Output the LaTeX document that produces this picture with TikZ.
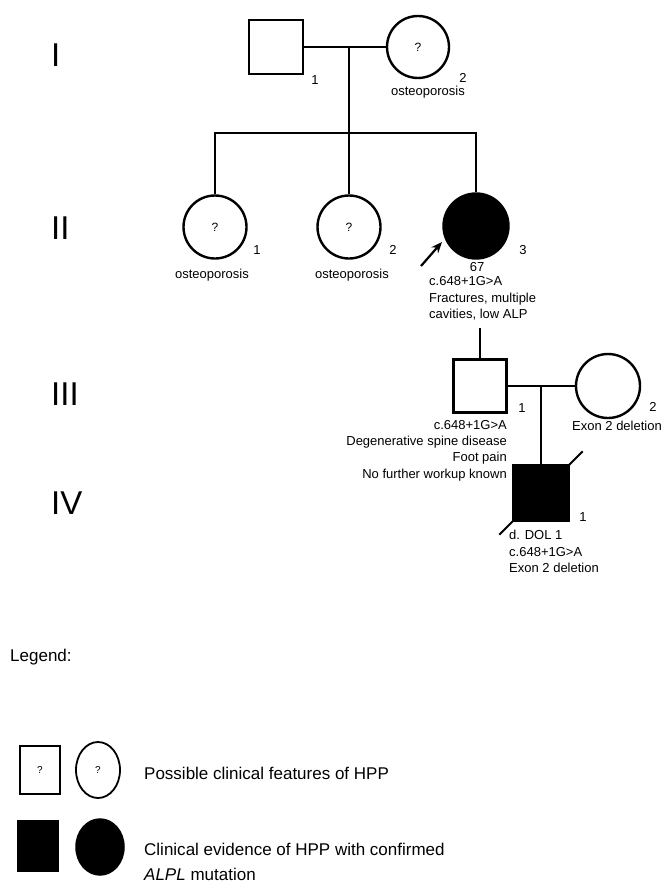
\documentclass[tikz,border=0pt]{standalone}
\usepackage{fontspec}
\setmainfont{Liberation Sans}
\usetikzlibrary{shapes.geometric,arrows.meta}
\begin{document}
\begin{tikzpicture}[x=1pt,y=-1pt,line width=2.4pt,
    male/.style={draw,rectangle,minimum size=54pt,inner sep=0pt,font=\fontsize{12}{12}\selectfont},
    female/.style={draw,circle,minimum size=63pt,inner sep=0pt,font=\fontsize{12}{12}\selectfont},
    affected/.style={fill=black},
    gen/.style={font=\fontsize{33}{33}\selectfont,inner sep=0pt,anchor=west},
    tag/.style={font=\fontsize{13}{16.3}\selectfont,inner sep=0pt},
    key/.style={font=\fontsize{17}{25}\selectfont,inner sep=0pt,anchor=west,align=left}]
    \useasboundingbox (0,0) rectangle (665,883);
    \node [gen] (g1) at (50,55) {I};
    \node [gen] (g2) at (50,228) {II};
    \node [gen] (g3) at (50,394) {III};
    \node [gen] (g4) at (50,503) {IV};
    \node [male] (i1) at (276,47) {};
    \node [female,minimum size=62pt] (i2) at (418,47) {?};
    \node [female] (ii1) at (215,227) {?};
    \node [female] (ii2) at (349,227) {?};
    \node [female,affected,minimum size=65pt] (ii3) at (476,226) {};
    \node [male,minimum size=53pt] (iii1) at (480,386) {};
    \node [female,minimum size=64pt] (iii2) at (608,386) {};
    \node [male,affected,minimum size=55pt] (iv1) at (541,493) {};
    \coordinate (m1) at (349,47);
    \coordinate (sib) at (349,133);
    \coordinate (c3) at (480,328);
    \coordinate (m2) at (541,386);
    \coordinate (arr) at (421,266);
    \coordinate (tip) at (442,242);
    \draw (i1) -- (i2);
    \draw (m1) -- (sib);
    \draw (ii1) |- (sib) -| (ii3);
    \draw (sib) -- (ii2);
    \draw (c3) -- (iii1);
    \draw (iii1) -- (iii2);
    \draw (m2) -- (iv1);
    \draw [line width=1.8pt] ([shift={(-13,13)}]iv1.south west) -- ([shift={(13,-13)}]iv1.north east);
    \draw [line width=2.2pt,-{Stealth[length=11pt,width=9pt]}] (arr) -- (tip);
    \node [tag] (n11) at (315,80) {1};
    \node [tag] (n12) at (463,78) {2};
    \node [tag] (t12) at (428,92) {osteoporosis};
    \node [tag] (n21) at (257,250) {1};
    \node [tag] (t21) at (212,275) {osteoporosis};
    \node [tag] (n22) at (393,250) {2};
    \node [tag] (t22) at (352,275) {osteoporosis};
    \node [tag] (n23) at (523,250) {3};
    \node [tag] (a23) at (477,267) {67};
    \node [tag,anchor=west,align=left] (t23) at (428,298.5) {c.648+1G>A\\Fractures, multiple\\cavities, low ALP};
    \node [tag] (n31) at (522,408) {1};
    \node [tag,anchor=east,align=right] (t31) at (508,450.5) {c.648+1G>A\\Degenerative spine disease\\Foot pain\\No further workup known};
    \node [tag] (n32) at (653,407) {2};
    \node [tag] (t32) at (617,426) {Exon 2 deletion};
    \node [tag] (n41) at (583,517) {1};
    \node [tag,anchor=west,align=left] (t41) at (508,551.5) {d. DOL 1\\c.648+1G>A\\Exon 2 deletion};
    \node [key] (leg) at (9,657) {Legend:};
    \node [draw,rectangle,minimum width=40pt,minimum height=48pt,inner sep=0pt,line width=1.8pt,font=\fontsize{10}{10}\selectfont] (lq1) at (40,770) {?};
    \node [draw,ellipse,minimum width=44pt,minimum height=56pt,inner sep=0pt,line width=1.8pt,font=\fontsize{10}{10}\selectfont] (lq2) at (98,770) {?};
    \node [draw,fill=black,rectangle,minimum width=40pt,minimum height=50pt,inner sep=0pt,line width=1.5pt] (lf1) at (38,846) {};
    \node [draw,fill=black,ellipse,minimum width=48pt,minimum height=56pt,inner sep=0pt,line width=1.5pt] (lf2) at (100,847) {};
    \node [key] (k1) at (143,773) {Possible clinical features of HPP};
    \node [key] (k2) at (143,862) {Clinical evidence of HPP with confirmed\\\textit{ALPL} mutation};
\end{tikzpicture}
\end{document}
